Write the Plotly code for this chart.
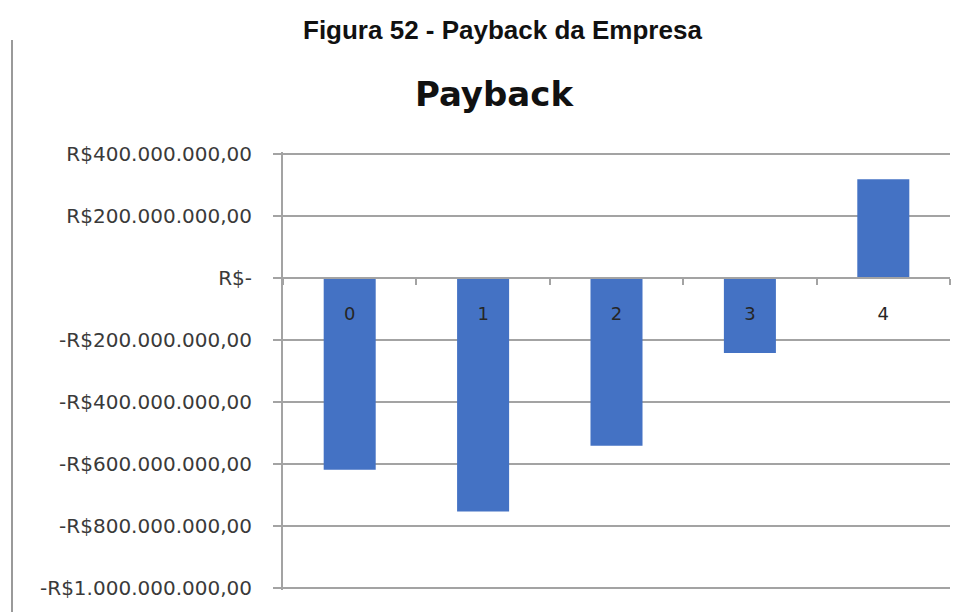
import plotly.graph_objects as go

# Payback per year (R$)
years = ["0", "1", "2", "3", "4"]
payback = [-618_000_000, -753_000_000, -541_000_000, -242_000_000, 318_000_000]

# Y axis ticks and their labels (pt-BR currency format)
tick_values = [400_000_000, 200_000_000, 0, -200_000_000, -400_000_000,
               -600_000_000, -800_000_000, -1_000_000_000]
tick_labels = ["R$400.000.000,00", "R$200.000.000,00", "R$-", "-R$200.000.000,00",
               "-R$400.000.000,00", "-R$600.000.000,00", "-R$800.000.000,00",
               "-R$1.000.000.000,00"]

W, H = 963, 612
L, R, T, B = 283, 13, 152, 22
# a small pad keeps the outermost gridlines inside the plot area
y_min, y_max = -1_005_800_000, 405_800_000
zero_pos = (0 - y_min) / (y_max - y_min)

grid = "#a3a3a3"
font_txt = "DejaVu Sans"

fig = go.Figure(
    go.Bar(
        x=years,
        y=payback,
        marker=dict(color="#4472C4", line=dict(width=0)),
        width=0.39,
    )
)

fig.update_layout(
    width=W,
    height=H,
    margin=dict(l=L, r=R, t=T, b=B, pad=0),
    paper_bgcolor="white",
    plot_bgcolor="white",
    showlegend=False,
    title=dict(
        text="<b>Payback</b>",
        font=dict(family=font_txt, size=34, color="#111111"),
        x=494 / W,
        xanchor="center",
        y=1 - 94 / H,
        yanchor="middle",
        yref="container",
    ),
    xaxis=dict(
        type="category",
        anchor="free",
        position=zero_pos,
        side="bottom",
        showline=True,
        linecolor=grid,
        linewidth=2,
        ticks="outside",
        tickson="boundaries",
        ticklen=6,
        tickcolor=grid,
        tickwidth=2,
        showgrid=False,
        zeroline=False,
        ticklabelstandoff=19,
        tickfont=dict(family=font_txt, size=18, color="#262626"),
    ),
    yaxis=dict(
        range=[y_min, y_max],
        tickmode="array",
        tickvals=tick_values,
        ticktext=tick_labels,
        showline=True,
        linecolor=grid,
        linewidth=2,
        ticks="outside",
        ticklen=8,
        tickcolor=grid,
        tickwidth=2,
        showgrid=True,
        gridcolor=grid,
        gridwidth=2,
        zeroline=False,
        ticklabelstandoff=17,
        tickfont=dict(family=font_txt, size=20, color="#3a3a3a"),
    ),
    annotations=[
        dict(
            text="<b>Figura 52 - Payback da Empresa</b>",
            xref="paper",
            yref="paper",
            x=(502 - L) / (W - L - R),
            y=(H - B - 30) / (H - T - B),
            xanchor="center",
            yanchor="middle",
            showarrow=False,
            font=dict(family="Liberation Sans", size=26, color="#111111"),
        )
    ],
    shapes=[
        # page border line on the left
        dict(
            type="line",
            xref="paper",
            yref="paper",
            x0=(12 - L) / (W - L - R),
            x1=(12 - L) / (W - L - R),
            y0=(H - B - 40) / (H - T - B),
            y1=(H - B - H) / (H - T - B),
            line=dict(color="#9a9a9a", width=2),
        )
    ],
)

fig.write_html("out.html")
